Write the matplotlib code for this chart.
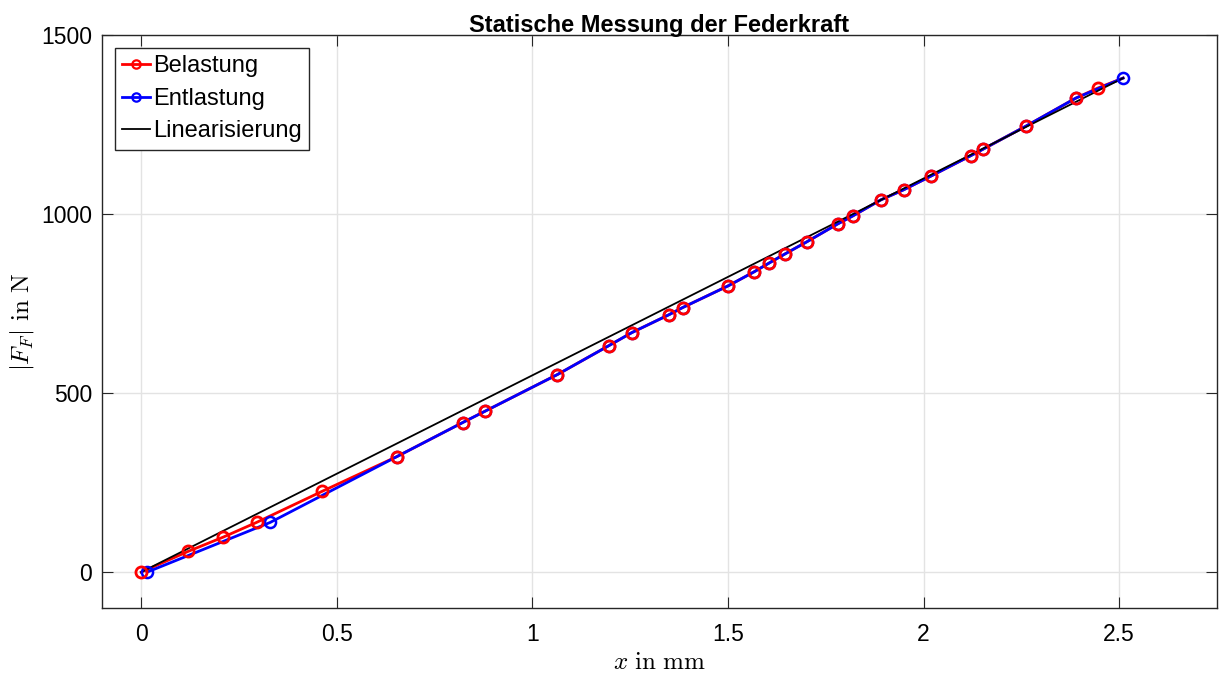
import matplotlib

matplotlib.use("Agg")
import matplotlib.pyplot as plt

# Belastung (loading)
load_x = [0.0, 0.12, 0.21, 0.295, 0.463, 0.654, 0.822, 0.878, 1.064, 1.196,
          1.254, 1.349, 1.384, 1.501, 1.567, 1.606, 1.646, 1.702, 1.781, 1.819,
          1.891, 1.949, 2.020, 2.120, 2.153, 2.262, 2.389, 2.445, 2.51]
load_F = [0, 58, 98, 139, 226, 323, 418, 449, 552, 633,
          669, 719, 739, 800, 839, 864, 889, 923, 973, 995,
          1040, 1068, 1107, 1163, 1182, 1246, 1324, 1352, 1380]

# Entlastung (unloading)
unload_x = [2.51, 2.389, 2.262, 2.153, 2.120, 2.020, 1.949, 1.891, 1.819, 1.781,
            1.702, 1.646, 1.606, 1.567, 1.501, 1.384, 1.349, 1.254, 1.196, 1.064,
            0.878, 0.822, 0.654, 0.33, 0.015]
unload_F = [1380, 1324, 1246, 1182, 1163, 1107, 1068, 1040, 995, 973,
            923, 889, 864, 839, 800, 739, 719, 669, 633, 552,
            449, 418, 323, 139, 0]

# Linearisierung
lin_x = [0.0, 2.51]
lin_F = [0, 1380]

xticks = [0, 0.5, 1, 1.5, 2, 2.5]
xticklabels = ["0", "0.5", "1", "1.5", "2", "2.5"]
yticks = [0, 500, 1000, 1500]

plt.rcParams["font.family"] = ["Liberation Sans", "DejaVu Sans"]
plt.rcParams["mathtext.fontset"] = "cm"

fig = plt.figure(figsize=(12.19, 6.75), dpi=100)
ax = fig.add_axes([0.0837, 0.0993, 0.9147, 0.8487])

ax.plot(load_x, load_F, color="red", lw=2, zorder=3)
ax.plot(unload_x, unload_F, color="blue", lw=2, zorder=4)
ax.plot(lin_x, lin_F, color="black", lw=1.3, zorder=5)
ax.plot(unload_x, unload_F, ls="none", marker="o", ms=8, mfc="none",
        mec="blue", mew=1.8, zorder=6)
ax.plot(load_x[:-1], load_F[:-1], ls="none", marker="o", ms=8, mfc="none",
        mec="red", mew=2.0, zorder=7)

# legend proxies
h1, = ax.plot([], [], color="red", lw=2, marker="o", ms=6, mfc="none", mew=1.6)
h2, = ax.plot([], [], color="blue", lw=2, marker="o", ms=6, mfc="none", mew=1.6)
h3, = ax.plot([], [], color="black", lw=1.3)
leg = ax.legend([h1, h2, h3], ["Belastung", "Entlastung", "Linearisierung"],
                loc="upper left", fontsize=17, fancybox=False, framealpha=1,
                edgecolor="#262626", handlelength=1.2, handletextpad=0.1,
                borderpad=0.3, labelspacing=0.45, borderaxespad=0.55)
leg.get_frame().set_linewidth(1.0)

ax.set_xlim(-0.1, 2.75)
ax.set_ylim(-100, 1500)
ax.set_xticks(xticks)
ax.set_xticklabels(xticklabels)
ax.set_yticks(yticks)
ax.grid(True, color="#e3e3e3", lw=1)
ax.set_axisbelow(True)
ax.tick_params(direction="in", top=True, right=True, labelsize=16.5,
               length=8, width=0.8, color="#262626")
ax.tick_params(axis="x", pad=11)
ax.tick_params(axis="y", pad=7)
for s in ax.spines.values():
    s.set_color("#262626")
    s.set_linewidth(1.0)

ax.set_title("Statische Messung der Federkraft", fontsize=17,
             fontweight="bold", pad=2)
ax.set_xlabel(r"$x\ \mathrm{in\ mm}$", fontsize=18, labelpad=3)
ax.set_ylabel(r"$|F_F|\ \mathrm{in\ N}$", fontsize=18, labelpad=4)

fig.savefig("out.png", dpi=100)
plt.close(fig)
